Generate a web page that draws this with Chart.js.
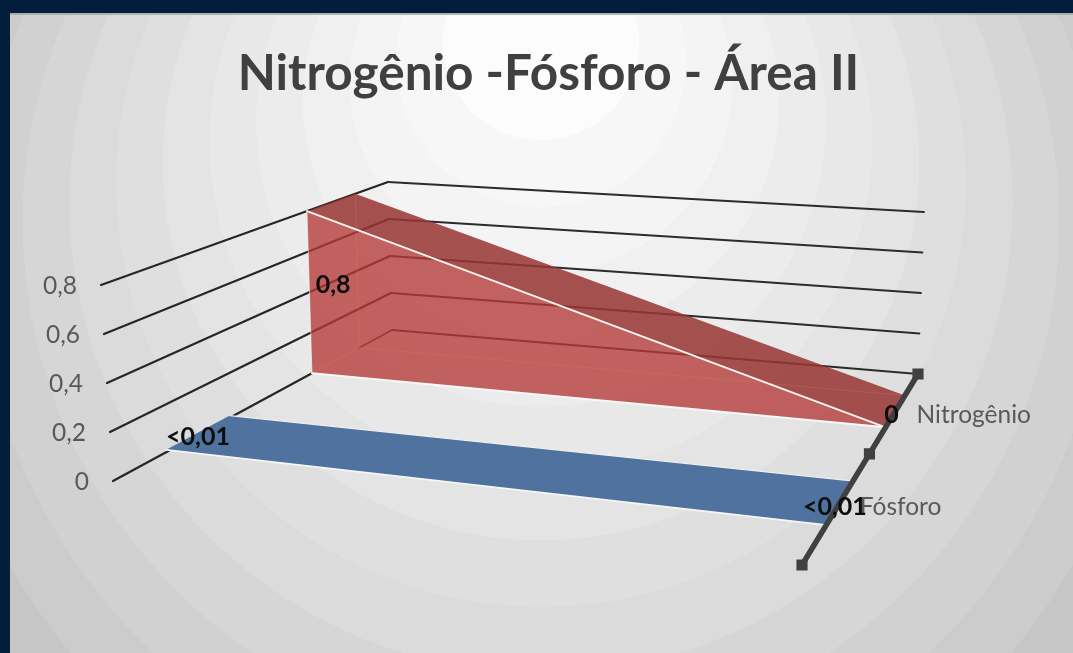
<!DOCTYPE html>
<html>
<head>
<meta charset="utf-8">
<script src="https://cdn.jsdelivr.net/npm/chart.js@4"></script>
<style>
html,body{margin:0;padding:0;background:#041d3b;overflow:hidden}
canvas{display:block;filter:blur(0.6px)}
</style>
</head>
<body>
<canvas id="c" width="1073" height="653"></canvas>
<script>
// ---- data ----
const chartTitle = 'Nitrogênio -Fósforo - Área II';
const categories = ['', ''];
const seriesNames = ['Fósforo', 'Nitrogênio'];
const fosforo = [0.01, 0.01];
const nitrogenio = [0.8, 0];
const fosforoLabels = ['<0,01', '<0,01'];
const nitrogenioLabels = ['0,8', '0'];
const valueTicks = [0, 0.2, 0.4, 0.6, 0.8];
const tickLabels = ['0', '0,2', '0,4', '0,6', '0,8'];

// ---- 3D view: where the box corners fall, and how deep each series sits ----
const valueMax = 0.8;
const floorQuad = [[113,481],[802,565],[918,374],[392,330]];
const topQuad   = [[101,285],[816,350],[924,212],[388,182]];
const fosforoDepth = [0.15, 0.35];
const nitrogenioDepth = [0.65, 0.85];

function homography(q){
  const [[x0,y0],[x1,y1],[x2,y2],[x3,y3]] = q;
  const dx1=x1-x2, dx2=x3-x2, sx=x0-x1+x2-x3;
  const dy1=y1-y2, dy2=y3-y2, sy=y0-y1+y2-y3;
  const den=dx1*dy2-dx2*dy1;
  const g=(sx*dy2-dx2*sy)/den, h=(dx1*sy-sx*dy1)/den;
  const a=x1-x0+g*x1, b=x3-x0+h*x3, d=y1-y0+g*y1, e=y3-y0+h*y3;
  return (u,w)=>{const n=g*u+h*w+1;return [(a*u+b*w+x0)/n,(d*u+e*w+y0)/n];};
}
const floorMap=homography(floorQuad), topMap=homography(topQuad);
function proj(u,v,w){
  const f=floorMap(u,w), t=topMap(u,w), k=v/valueMax;
  return {x:f[0]+(t[0]-f[0])*k, y:f[1]+(t[1]-f[1])*k};
}
const uOf = i => i/(categories.length-1);

// ---- build the marks from the data ----
const sets=[];
function addLine(points,color,width){
  sets.push({data:points,showLine:true,borderColor:color,borderWidth:width,pointRadius:0,fill:false,tension:0,borderCapStyle:'round'});
}
function addPoly(points,color){
  sets.push({data:points,showLine:true,borderWidth:0,borderColor:'rgba(0,0,0,0)',backgroundColor:color,pointRadius:0,fill:'shape',tension:0});
}
// gridlines on the side and back walls
valueTicks.forEach(v=>{
  if(v===0){
    addLine([proj(0,v,0),proj(0,v,nitrogenioDepth[0])],'#262626',2.2);
    addLine([proj(0,v,nitrogenioDepth[1]),proj(0,v,1)],'#3a3a3a',1.6);
  } else {
    addLine([proj(0,v,0),proj(0,v,1)],'#262626',2.2);
  }
  addLine([proj(0,v,1),proj(1,v,1)],'#2b2b2b',1.8);
});
// Nitrogênio band
const [nF,nB]=nitrogenioDepth;
addPoly([proj(0,0,nF),proj(0,nitrogenio[0],nF),proj(1,nitrogenio[1],nF)],'rgba(181,58,55,0.78)');
addPoly([proj(0,nitrogenio[0],nF),proj(0,nitrogenio[0],nB),proj(1,nitrogenio[1],nB),proj(1,nitrogenio[1],nF)],'rgba(151,54,52,0.86)');
addLine([proj(0,0,nF),proj(0,0,nB),proj(1,0,nB)],'rgba(225,130,90,0.22)',1);
addLine([proj(0,nitrogenio[0],nB),proj(0,0,nB)],'rgba(225,130,90,0.22)',1);
addLine([proj(0,nitrogenio[0],nF),proj(1,nitrogenio[1],nF)],'#fbf3f2',2);
addLine([proj(0,0,nF),proj(1,0,nF)],'#f8f8f8',2);
addLine([proj(0,0,nF),proj(0,nitrogenio[0],nF)],'rgba(255,255,255,0.55)',1);
// Fósforo band
const [fF,fB]=fosforoDepth;
addPoly([proj(0,fosforo[0],fF),proj(0,fosforo[0],fB),proj(1,fosforo[1],fB),proj(1,fosforo[1],fF)],'#4f739e');
addLine([proj(0,fosforo[0],fF),proj(1,fosforo[1],fF)],'#f6f6f6',1.8);
addLine([proj(0,fosforo[0],fB),proj(1,fosforo[1],fB)],'#f0f0f0',1.2);
// depth axis
const axisPts=[0,0.5,1].map(w=>proj(1,0,w));
sets.push({data:axisPts,showLine:true,borderColor:'#404040',borderWidth:5.5,pointStyle:'rect',pointRadius:4,pointBackgroundColor:'#404040',pointBorderColor:'#404040',fill:false,tension:0});
sets.forEach((s,i)=>{s.order=sets.length-i;});

// ---- banded backdrop and text ----
const panel={left:10,top:13};
const backdrop={id:'backdrop',beforeDraw(ch){
  const c=ch.ctx; c.save();
  const g=c.createRadialGradient(541,0,0,541,300,700);
  const first=0.14, step=0.0667, hi=252, lo=188;
  let start=0;
  for(let end=first; start<1; start=end, end+=step){
    const e=Math.min(end,1);
    const s=Math.round(hi+(lo-hi)*Math.pow(start,1.3));
    const col=`rgb(${s},${s},${s})`;
    g.addColorStop(start,col); g.addColorStop(e,col);
  }
  c.fillStyle=g;
  c.fillRect(panel.left,panel.top,ch.width-panel.left,ch.height-panel.top);
  c.fillStyle='rgba(170,170,170,0.9)';
  c.fillRect(panel.left,panel.top,ch.width-panel.left,2);
  c.restore();
}};
const texts={id:'texts',afterDatasetsDraw(ch){
  const c=ch.ctx, xS=ch.scales.x, yS=ch.scales.y; c.save();
  const put=(t,p,dx,dy,align,font,color)=>{
    c.font=font;c.fillStyle=color;c.textAlign=align;c.textBaseline='middle';
    c.fillText(t,xS.getPixelForValue(p.x)+dx,yS.getPixelForValue(p.y)+dy);
  };
  const axisFont='24.5px Lato', lblFont='bold 25px Lato';
  valueTicks.forEach((v,i)=>put(tickLabels[i],proj(0,v,0),-24,1,'right',axisFont,'#595959'));
  const mid=d=>(d[0]+d[1])/2;
  put(seriesNames[0],proj(1,0,mid(fosforoDepth)),21,3,'left',axisFont,'#595959');
  put(seriesNames[1],proj(1,0,mid(nitrogenioDepth)),21,4,'left',axisFont,'#595959');
  [[fosforo,fosforoLabels,fosforoDepth],[nitrogenio,nitrogenioLabels,nitrogenioDepth]].forEach(([vals,labs,dep])=>{
    vals.forEach((v,i)=>put(labs[i],proj(uOf(i),v/2,mid(dep)),i===0?-1:-4,4,'center',lblFont,'#0d0d0d'));
  });
  c.restore();
}};

// ---- chart ----
const titleSize=49.5, titlePadTop=44, titlePadBottom=10;
const chartTop=titlePadTop+titleSize*1.2+titlePadBottom;
const padLeft=24;
new Chart(document.getElementById('c'),{
  type:'scatter',
  data:{datasets:sets},
  options:{
    responsive:false,animation:false,events:[],
    layout:{autoPadding:false,padding:{left:padLeft,right:0,top:0,bottom:0}},
    scales:{
      x:{type:'linear',display:false,min:padLeft,max:1073},
      y:{type:'linear',display:false,reverse:true,min:chartTop,max:653}
    },
    plugins:{
      legend:{display:false},tooltip:{enabled:false},
      title:{display:true,text:chartTitle,color:'#404040',
        font:{family:'Lato',size:titleSize,weight:'bold',lineHeight:1.2},
        padding:{top:titlePadTop,bottom:titlePadBottom}}
    }
  },
  plugins:[backdrop,texts]
});
</script>
</body>
</html>
